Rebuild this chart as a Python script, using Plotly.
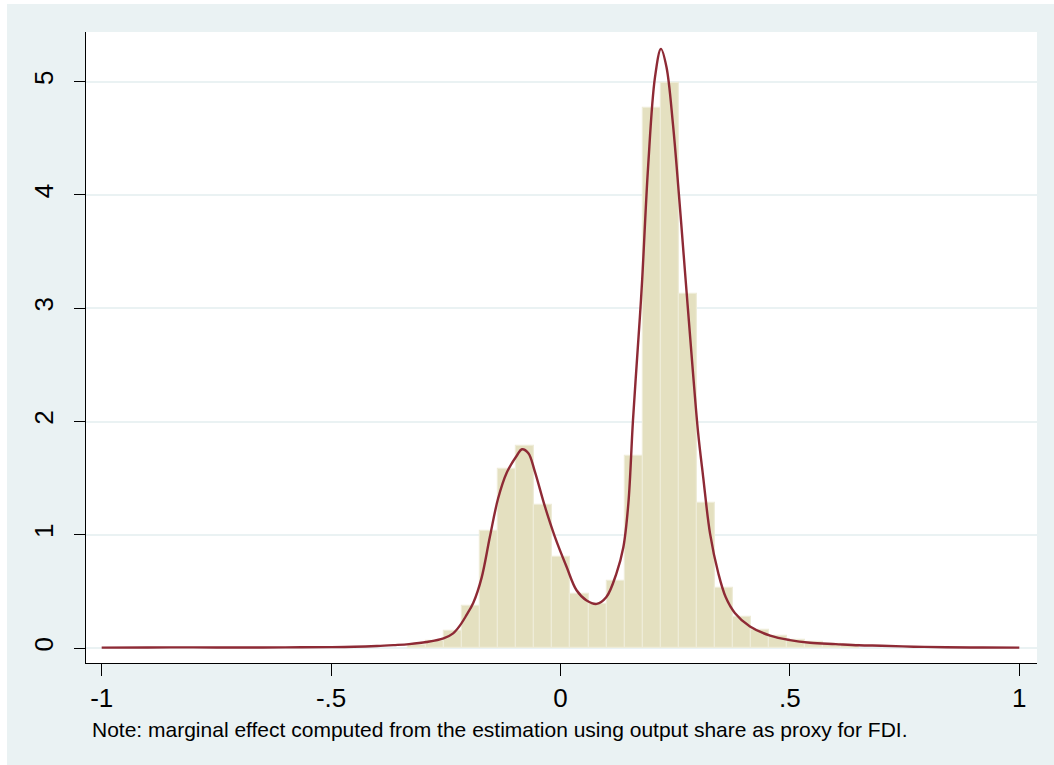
import plotly.graph_objects as go

# Histogram bins (centres) and densities
bin_centers = [-0.3123, -0.2730, -0.2337, -0.1944, -0.1551, -0.1158, -0.0765, -0.0372,
               0.0021, 0.0414, 0.0807, 0.1200, 0.1593, 0.1986, 0.2379, 0.2772,
               0.3165, 0.3558, 0.3951, 0.4344, 0.4737, 0.5130, 0.5523, 0.5916, 0.6309]
bin_density = [0.03, 0.062, 0.15, 0.374, 1.03, 1.58, 1.78, 1.26,
               0.80, 0.474, 0.39, 0.59, 1.70, 4.77, 4.99, 3.13,
               1.28, 0.53, 0.27, 0.16, 0.11, 0.07, 0.05, 0.035, 0.025]
bin_width = 0.0393

# Kernel density curve
kde_x = [-1.0, -0.9, -0.8, -0.7, -0.6, -0.5, -0.45, -0.40, -0.364, -0.33, -0.292, -0.255,
         -0.234, -0.219, -0.205, -0.19, -0.172, -0.154, -0.136, -0.117, -0.095, -0.084,
         -0.07, -0.056, -0.034, -0.012, 0.013, 0.035, 0.057, 0.079, 0.10, 0.122, 0.137,
         0.148, 0.158, 0.173, 0.178, 0.191, 0.206, 0.219, 0.231, 0.245, 0.258, 0.271,
         0.28, 0.289, 0.30, 0.311, 0.326, 0.344, 0.36, 0.38, 0.413, 0.457, 0.50, 0.544,
         0.60, 0.65, 0.70, 0.77, 0.84, 0.92, 1.0]
kde_y = [0.004, 0.005, 0.006, 0.005, 0.006, 0.008, 0.011, 0.018, 0.026, 0.035, 0.053, 0.085,
         0.13, 0.20, 0.29, 0.40, 0.62, 0.98, 1.32, 1.55, 1.70, 1.755,
         1.72, 1.56, 1.25, 0.98, 0.72, 0.51, 0.42, 0.39, 0.45, 0.66, 0.89,
         1.28, 2.01, 2.92, 3.25, 4.25, 5.04, 5.29, 5.13, 4.63, 4.01, 3.34,
         2.88, 2.42, 1.90, 1.51, 1.01, 0.66, 0.45, 0.31, 0.19, 0.11, 0.07, 0.047,
         0.035, 0.025, 0.02, 0.012, 0.007, 0.005, 0.004]

x_tickvals = [-1, -0.5, 0, 0.5, 1]
x_ticktext = ["-1", "-.5", "0", ".5", "1"]
y_tickvals = [0, 1, 2, 3, 4, 5]
y_ticktext = ["0", "1", "2", "3", "4", "5"]
note_text = "Note: marginal effect computed from the estimation using output share as proxy for FDI."

BG = "#EAF2F3"
FONT = "Liberation Sans, Arial, sans-serif"

fig = go.Figure()
fig.add_trace(go.Bar(
    x=bin_centers, y=bin_density, width=bin_width,
    marker=dict(color="#E4E0C0", line=dict(color="#EEECD8", width=1.2)),
    showlegend=False, hoverinfo="skip"))
fig.add_trace(go.Scatter(
    x=kde_x, y=kde_y, mode="lines",
    line=dict(color="#8E2A35", width=2.4, shape="spline", smoothing=1.0),
    showlegend=False))

fig.update_layout(
    width=1054, height=765,
    margin=dict(l=86, r=17, t=32, b=102),
    paper_bgcolor=BG, plot_bgcolor="white",
    font=dict(family=FONT, color="black"),
    bargap=0,
    shapes=[
        dict(type="rect", xref="paper", yref="paper", x0=-0.1, x1=-0.0831,
             y0=-0.2, y1=1.1, fillcolor="white", line_width=0, layer="below"),
        dict(type="rect", xref="paper", yref="paper", x0=-0.1, x1=1.1,
             y0=1.0444, y1=1.1, fillcolor="white", line_width=0, layer="below"),
    ],
    annotations=[dict(text=note_text, xref="paper", yref="paper", x=0.0042, y=-0.106,
                      xanchor="left", yanchor="middle", showarrow=False,
                      font=dict(size=21, family=FONT, color="black"))],
)
fig.update_xaxes(
    range=[-1.0342, 1.0386], tickvals=x_tickvals, ticktext=x_ticktext,
    showgrid=False, zeroline=False, showline=True, linecolor="black", linewidth=1,
    ticks="outside", ticklen=12, tickcolor="black", tickwidth=1,
    ticklabelstandoff=0,
    tickfont=dict(size=26, family=FONT, color="black"))
fig.update_yaxes(
    range=[-0.132, 5.439], tickvals=y_tickvals, ticktext=y_ticktext,
    showgrid=True, gridcolor=BG, gridwidth=1.5, zeroline=False,
    showline=True, linecolor="black", linewidth=1,
    ticks="outside", ticklen=11, tickcolor="black", tickwidth=1, tickangle=-90,
    ticklabelstandoff=11,
    tickfont=dict(size=26, family=FONT, color="black"))

fig.write_html("out.html")
